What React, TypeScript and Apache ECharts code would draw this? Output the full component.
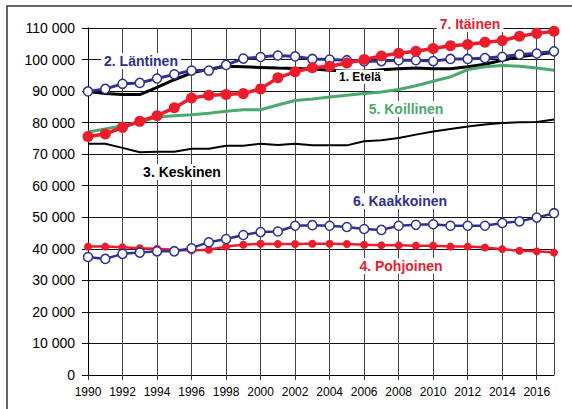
import React, { useEffect, useRef } from "react";
import * as echarts from "echarts";

const years = [1990, 1991, 1992, 1993, 1994, 1995, 1996, 1997, 1998, 1999, 2000, 2001, 2002, 2003, 2004, 2005, 2006, 2007, 2008, 2009, 2010, 2011, 2012, 2013, 2014, 2015, 2016, 2017];

const etela = [89900, 89200, 88900, 88900, 91200, 93600, 95800, 96900, 97900, 97700, 97500, 97300, 97200, 97000, 96600, 96300, 96300, 96800, 97100, 97300, 97100, 97100, 97700, 98500, 99800, 100900, 101600, 102300];
const lantinen = [89900, 90700, 92300, 92600, 94000, 95300, 96500, 96500, 98300, 100300, 100800, 101300, 101000, 100200, 100000, 99800, 99400, 99500, 99800, 99800, 99500, 100200, 100200, 100500, 100900, 101600, 101900, 102600];
const keskinen = [73300, 73300, 72000, 70600, 70800, 70800, 71700, 71700, 72700, 72700, 73300, 72900, 73300, 72800, 72800, 72800, 74100, 74400, 75100, 76200, 77200, 78000, 78800, 79400, 79900, 80100, 80200, 81000];
const pohjoinen = [40700, 40700, 40500, 40200, 40000, 39700, 39500, 39700, 40700, 41300, 41600, 41500, 41500, 41600, 41600, 41500, 41300, 41100, 41100, 41000, 41000, 40700, 40700, 40400, 39900, 39400, 39200, 38800];
const koillinen = [77000, 78000, 79000, 80100, 81800, 82200, 82500, 83000, 83600, 84100, 84100, 85600, 87000, 87500, 88100, 88700, 89200, 89700, 90500, 91700, 93100, 94500, 96800, 97700, 98100, 97900, 97300, 96600];
const kaakkoinen = [37400, 36800, 38400, 38800, 39200, 39200, 40200, 42100, 43100, 44400, 45300, 45500, 47300, 47500, 47300, 46900, 46300, 46000, 47300, 47600, 47800, 47300, 47300, 47300, 48200, 48700, 49900, 51300];
const itainen = [75600, 76400, 78500, 80400, 82200, 84700, 87800, 88700, 88900, 89200, 90700, 94200, 96100, 97400, 97900, 98900, 100000, 101100, 102000, 102600, 103500, 104400, 104800, 105500, 106000, 107400, 108300, 109000];

const RED = "#ec1c2c";
const BLUE = "#2e3192";
const GREEN = "#4aa96c";
const BLACK = "#000000";
const FONT = "'Liberation Sans', Arial, sans-serif";

const pair = (vals: number[]) => years.map((y, i) => [y, vals[i]]);

const labels = [
  { text: "2. Läntinen", x: 141, y: 61, color: BLUE, size: 14 },
  { text: "7. Itäinen", x: 470, y: 24, color: RED, size: 14 },
  { text: "1. Etelä", x: 360, y: 77, color: BLACK, size: 12 },
  { text: "5. Koillinen", x: 406, y: 109, color: GREEN, size: 14 },
  { text: "3. Keskinen", x: 182, y: 172, color: BLACK, size: 14 },
  { text: "6. Kaakkoinen", x: 400, y: 201, color: BLUE, size: 14 },
  { text: "4. Pohjoinen", x: 401, y: 266, color: RED, size: 14 },
];

export default function App() {
  const ref = useRef<HTMLDivElement>(null);
  useEffect(() => {
    if (!ref.current) return;
    const chart = echarts.init(ref.current, null, { renderer: "svg" });
    const lineSeries = (name: string, vals: number[], color: string, width: number, symbol: string, size: number, filled: boolean, z: number) => ({
      name,
      type: "line",
      data: pair(vals),
      z,
      symbol: symbol,
      symbolSize: size,
      showSymbol: symbol !== "none",
      lineStyle: { color, width },
      itemStyle: filled
        ? { color, borderColor: color, borderWidth: 0 }
        : { color: "#ffffff", borderColor: color, borderWidth: 1.5 },
      emphasis: { disabled: true },
    });
    chart.setOption({
      animation: false,
      grid: { left: 88, right: 18, top: 28, bottom: 34 },
      xAxis: {
        type: "value",
        min: 1990,
        max: 2017,
        interval: 2,
        axisLine: { show: true, lineStyle: { color: "#000", width: 1 } },
        axisTick: { show: true, length: 5, lineStyle: { color: "#333" } },
        splitLine: { show: true, lineStyle: { color: "#444", width: 1 } },
        axisLabel: {
          showMaxLabel: false,
          margin: 11,
          fontSize: 12,
          color: "#000",
          fontFamily: FONT,
          formatter: (v: number) => (v === 2017 ? "" : String(v)),
        },
      },
      yAxis: {
        type: "value",
        min: 0,
        max: 110000,
        interval: 10000,
        axisLine: { show: true, lineStyle: { color: "#000", width: 1 } },
        axisTick: { show: true, length: 6, lineStyle: { color: "#000" } },
        splitLine: { show: true, lineStyle: { color: "#111", width: 1 } },
        axisLabel: {
          margin: 13,
          fontSize: 14,
          color: "#000",
          fontFamily: FONT,
          formatter: (v: number) => String(v).replace(/\B(?=(\d{3})+(?!\d))/g, " "),
        },
      },
      series: [
        lineSeries("1. Etelä", etela, BLACK, 3, "none", 0, true, 2),
        lineSeries("3. Keskinen", keskinen, BLACK, 2, "none", 0, true, 2),
        lineSeries("5. Koillinen", koillinen, GREEN, 3, "none", 0, true, 3),
        lineSeries("4. Pohjoinen", pohjoinen, RED, 2.5, "circle", 8, true, 4),
        lineSeries("6. Kaakkoinen", kaakkoinen, BLUE, 2.5, "circle", 9, false, 5),
        lineSeries("2. Läntinen", lantinen, BLUE, 3, "circle", 9, false, 6),
        lineSeries("7. Itäinen", itainen, RED, 3.5, "circle", 11, true, 7),
      ],
      graphic: [
        {
          type: "rect",
          z: 0,
          silent: true,
          shape: { x: 7, y: 6, width: 700, height: 600 },
          style: { fill: "none", stroke: "#333", lineWidth: 1.5 },
        },
        ...labels.map((l) => ({
          type: "text",
          x: l.x,
          y: l.y,
          z: 100,
          silent: true,
          style: {
            text: l.text,
            fill: l.color,
            font: `bold ${l.size}px ${FONT}`,
            textAlign: "center",
            textVerticalAlign: "middle",
            backgroundColor: "#ffffff",
            padding: [1, 3],
          },
        })),
      ],
    });
    return () => chart.dispose();
  }, []);
  return <div ref={ref} style={{ position: "absolute", left: 0, top: 0, width: 572, height: 409, background: "#fff" }} />;
}
